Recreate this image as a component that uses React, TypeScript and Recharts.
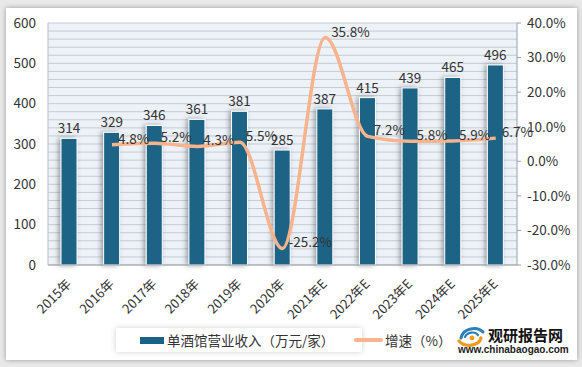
import React from 'react';
import { ComposedChart, Bar, Line, XAxis, YAxis, CartesianGrid, LabelList } from 'recharts';

const years = ['2015年', '2016年', '2017年', '2018年', '2019年', '2020年', '2021年E', '2022年E', '2023年E', '2024年E', '2025年E'];
const revenue = [314, 329, 346, 361, 381, 285, 387, 415, 439, 465, 496];
const growth: (number | null)[] = [null, 4.8, 5.2, 4.3, 5.5, -25.2, 35.8, 7.2, 5.8, 5.9, 6.7];
const leftTicks = [0, 100, 200, 300, 400, 500, 600];
const rightTicks = [-30, -20, -10, 0, 10, 20, 30, 40];
const barName = '单酒馆营业收入（万元/家）';
const lineName = '增速（%）';

const data = years.map((y, i) => ({ year: y, revenue: revenue[i], growth: growth[i] }));

const W = 582;
const H = 367;
const MARGIN = { top: 23, right: 0, bottom: 42, left: 0 };
const X_AXIS_H = 60;
const LEFT_MAX = 600;
const GRID_STEP = 20;
const PLOT_H = H - MARGIN.top - MARGIN.bottom - X_AXIS_H;
const gridPoints: number[] = [];
for (let v = 0; v <= LEFT_MAX; v += GRID_STEP) gridPoints.push(MARGIN.top + PLOT_H * (1 - v / LEFT_MAX));

const FONT = '"Noto Sans CJK SC", "Noto Sans", sans-serif';
const BAR_COLOR = '#1a6386';
const LINE_COLOR = '#f7b38b';

const BarShape = (props: any) => {
  const { x, y, width, height } = props;
  if (height <= 0) return null;
  return (
    <rect x={x} y={y} width={width} height={height} fill={BAR_COLOR} stroke="#ffffff" strokeWidth={1} filter="url(#barShadow)" />
  );
};

const XTick = (props: any) => {
  const { x, y, payload } = props;
  return (
    <g transform={`translate(${x - 1},${y + 8})`}>
      <text x={0} y={0} transform="rotate(-45)" textAnchor="end" dominantBaseline="central" fontSize={13} fill="#333" fontFamily={FONT}>
        {payload.value}
      </text>
    </g>
  );
};

const GrowthLabel = (props: any) => {
  const { x, y, value } = props;
  if (value === null || value === undefined) return null;
  return (
    <text x={x + 6} y={y - 7} textAnchor="start" dominantBaseline="central" fontSize={13.5} fill="#333" fontFamily={FONT}>
      {`${Number(value).toFixed(1)}%`}
    </text>
  );
};

export default function App() {
  return (
    <div style={{ position: 'absolute', left: 0, top: 0, width: W, height: H, background: '#e9e9e9', overflow: 'hidden', fontFamily: FONT }}>
      <div style={{ position: 'absolute', left: 6, top: 8, width: 571, height: 352, background: '#ffffff', boxShadow: '0 0 5px rgba(0,0,0,0.35)' }} />
      <div style={{ position: 'absolute', left: 0, top: 0 }}>
        <ComposedChart width={W} height={H} data={data} margin={MARGIN}>
          <defs>
            <filter id="barShadow" x="-80%" y="-10%" width="260%" height="120%">
              <feDropShadow dx={-2} dy={0} stdDeviation={2.4} floodColor="#5a5f66" floodOpacity={0.6} />
            </filter>
          </defs>
          <CartesianGrid yAxisId="left" vertical={false} horizontalPoints={gridPoints} stroke="#c4cbd3" strokeWidth={1} fill="#edf2f8" fillOpacity={1} />
          <XAxis dataKey="year" tick={<XTick />} tickLine={false} axisLine={{ stroke: '#9aa0a6' }} interval={0} height={X_AXIS_H} />
          <YAxis yAxisId="left" orientation="left" domain={[0, LEFT_MAX]} ticks={leftTicks} width={48} tickLine={false} tickSize={0} tickMargin={12} axisLine={{ stroke: '#b8bec5' }} tick={{ fontSize: 13.5, fill: '#333', fontFamily: FONT }} />
          <YAxis yAxisId="right" orientation="right" domain={[-30, 40]} ticks={rightTicks} width={65} tickSize={4} tickMargin={6} tickLine={{ stroke: '#9aa0a6' }} axisLine={{ stroke: '#9aa0a6' }} tickFormatter={(v: number) => `${v.toFixed(1)}%`} tick={{ fontSize: 13.5, fill: '#333', fontFamily: FONT }} />
          <Bar yAxisId="left" dataKey="revenue" name={barName} barSize={16} fill={BAR_COLOR} shape={<BarShape />} isAnimationActive={false}>
            <LabelList dataKey="revenue" position="top" offset={5} fontSize={13.5} fill="#333" fontFamily={FONT} />
          </Bar>
          <Line yAxisId="right" dataKey="growth" name={lineName} type="monotone" stroke={LINE_COLOR} strokeWidth={3.5} dot={false} activeDot={false} connectNulls={false} isAnimationActive={false}>
            <LabelList dataKey="growth" content={<GrowthLabel />} />
          </Line>
        </ComposedChart>
      </div>
      <div style={{ position: 'absolute', left: 116, top: 328, width: 246, height: 24, background: '#fff', boxShadow: '0 0 6px rgba(0,0,0,0.18)' }} />
      <div style={{ position: 'absolute', left: 140, top: 337, width: 24, height: 7, background: BAR_COLOR }} />
      <div style={{ position: 'absolute', left: 167, top: 330, fontSize: 13.5, lineHeight: '20px', color: '#333', whiteSpace: 'nowrap' }}>{barName}</div>
      <div style={{ position: 'absolute', left: 354, top: 338, width: 29, height: 4, borderRadius: 2, background: LINE_COLOR }} />
      <div style={{ position: 'absolute', left: 385, top: 330, fontSize: 13.5, lineHeight: '20px', color: '#333', whiteSpace: 'nowrap' }}>{lineName}</div>
      <svg style={{ position: 'absolute', left: 457, top: 324 }} width={30} height={24} viewBox="0 0 30 24">
        <path d="M4 14 C6 4, 20 2, 26 8" stroke="#2d7fb8" strokeWidth={3} fill="none" strokeLinecap="round" />
        <path d="M8 13 C10 8, 18 7, 21 11" stroke="#2d7fb8" strokeWidth={2.2} fill="none" strokeLinecap="round" />
        <path d="M2 17 C8 24, 22 22, 24 14" stroke="#f39a1e" strokeWidth={3.2} fill="none" strokeLinecap="round" />
        <circle cx={15} cy={14} r={2.4} fill="#f39a1e" />
      </svg>
      <div style={{ position: 'absolute', left: 488, top: 325, fontSize: 15, lineHeight: '20px', fontWeight: 700, color: '#111', whiteSpace: 'nowrap', fontFamily: '"Noto Sans CJK SC", sans-serif' }}>观研报告网</div>
      <div style={{ position: 'absolute', left: 458, top: 343, fontSize: 10, lineHeight: '13px', fontWeight: 700, color: '#222', whiteSpace: 'nowrap', fontFamily: '"Liberation Sans", Arial, sans-serif' }}>www.chinabaogao.com</div>
    </div>
  );
}
